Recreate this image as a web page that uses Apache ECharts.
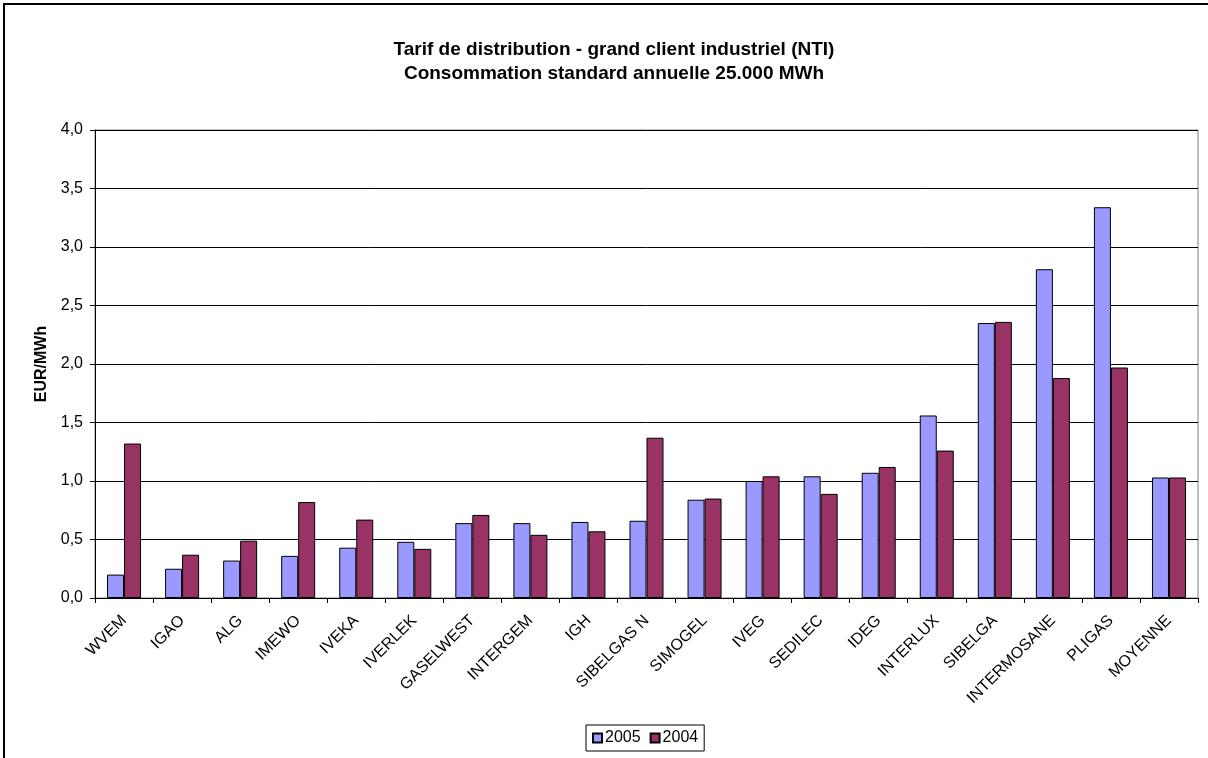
<!DOCTYPE html>
<html>
<head>
<meta charset="utf-8">
<script src="https://cdn.jsdelivr.net/npm/echarts@6/dist/echarts.min.js"></script>
<style>
  html, body { margin: 0; padding: 0; background: #fff; }
  #chart { width: 1208px; height: 758px; }
</style>
</head>
<body>
<div id="chart"></div>
<script>
// categories and values
const categories = ['WVEM', 'IGAO', 'ALG', 'IMEWO', 'IVEKA', 'IVERLEK', 'GASELWEST', 'INTERGEM', 'IGH',
  'SIBELGAS N', 'SIMOGEL', 'IVEG', 'SEDILEC', 'IDEG', 'INTERLUX', 'SIBELGA', 'INTERMOSANE', 'PLIGAS', 'MOYENNE']
const values2005 = [0.20, 0.25, 0.32, 0.36, 0.43, 0.48, 0.64, 0.64, 0.65, 0.66, 0.84, 1.00, 1.04, 1.07, 1.56, 2.35, 2.81, 3.34, 1.03]
const values2004 = [1.32, 0.37, 0.49, 0.82, 0.67, 0.42, 0.71, 0.54, 0.57, 1.37, 0.85, 1.04, 0.89, 1.12, 1.26, 2.36, 1.88, 1.97, 1.03]

const font = 'Arial, "Liberation Sans", sans-serif'
const chart = echarts.init(document.getElementById('chart'))

chart.setOption({
  animation: false,
  backgroundColor: '#fff',
  textStyle: { fontFamily: font, color: '#000' },
  title: {
    text: 'Tarif de distribution - grand client industriel (NTI)\nConsommation standard annuelle 25.000 MWh',
    left: 609,
    textAlign: 'center',
    top: 33,
    textStyle: { fontFamily: font, fontSize: 19, fontWeight: 'bold', color: '#000', lineHeight: 24 }
  },
  graphic: [{
    type: 'rect',
    shape: { x: 4, y: 4, width: 1210, height: 760 },
    style: { fill: 'none', stroke: '#000', lineWidth: 2 },
    silent: true
  }],
  legend: {
    left: 586,
    top: 725,
    padding: [5, 6, 5, 6],
    itemGap: 9,
    itemWidth: 9,
    itemHeight: 9,
    borderColor: '#000',
    borderWidth: 1,
    icon: 'rect',
    textStyle: { fontFamily: font, fontSize: 16, color: '#000', padding: [0, 0, 0, -2] },
    data: ['2005', '2004']
  },
  grid: {
    left: 95,
    right: 10,
    top: 130,
    bottom: 160,
    show: true,
    borderColor: '#808080',
    borderWidth: 1
  },
  xAxis: {
    type: 'category',
    data: categories,
    axisLine: { lineStyle: { color: '#000', width: 1 } },
    axisTick: { show: true, length: 5, lineStyle: { color: '#000' } },
    axisLabel: { rotate: 45, fontFamily: font, fontSize: 16, color: '#000', margin: 20, interval: 0 },
    splitLine: { show: false }
  },
  yAxis: {
    type: 'value',
    min: 0,
    max: 4,
    interval: 0.5,
    name: 'EUR/MWh',
    nameLocation: 'middle',
    nameRotate: 90,
    nameGap: 37,
    nameTextStyle: { fontFamily: font, fontSize: 16, fontWeight: 'bold', color: '#000' },
    axisLine: { show: true, lineStyle: { color: '#000', width: 1 } },
    axisTick: { show: true, length: 5, lineStyle: { color: '#000' } },
    axisLabel: {
      fontFamily: font, fontSize: 16, color: '#000', margin: 12,
      formatter: v => v.toFixed(1).replace('.', ',')
    },
    splitLine: { show: true, lineStyle: { color: '#000', width: 1 } }
  },
  series: [
    {
      name: '2005',
      type: 'bar',
      data: values2005,
      barWidth: 17,
      barGap: '0%',
      itemStyle: { color: '#9999FF', borderColor: '#000', borderWidth: 1 }
    },
    {
      name: '2004',
      type: 'bar',
      data: values2004,
      barWidth: 17,
      itemStyle: { color: '#993366', borderColor: '#000', borderWidth: 1 }
    }
  ]
})
</script>
</body>
</html>
